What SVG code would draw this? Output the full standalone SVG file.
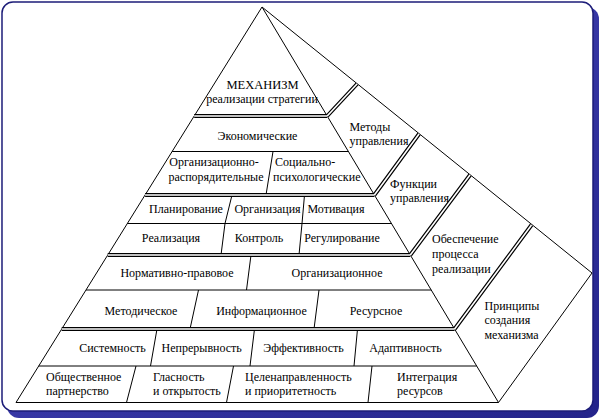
<svg xmlns="http://www.w3.org/2000/svg" width="600" height="419" viewBox="0 0 600 419">
<defs>
<linearGradient id="sh" x1="0" y1="0" x2="1" y2="1">
<stop offset="0" stop-color="#4a4ac0"/>
<stop offset="1" stop-color="#23238a"/>
</linearGradient>
</defs>
<style>
text{font-family:"Liberation Serif","DejaVu Serif",serif;font-size:12px;fill:#000}
.m{text-anchor:middle}
.ln{stroke:#000;stroke-width:1;fill:none}
.dblo{stroke:#000;stroke-width:4;fill:none;stroke-linecap:butt}
.dbli{stroke:#fff;stroke-width:1.6;fill:none;stroke-linecap:butt}
</style>
<rect x="7" y="7" width="592" height="411" rx="12" fill="url(#sh)"/>
<rect x="2" y="2" width="591" height="409" rx="11" fill="#fff" stroke="#1c1c78" stroke-width="1.5"/>

<g id="connectors">
<path class="ln" d="M262,7 L16,402.5 L498.5,402.5 Z"/>
<path class="ln" d="M262,7 L592,273 L498.5,402.5"/>
<path class="ln" d="M172.1,151.5 H348.4 M127.3,223.5 H391.5 M86,290 H431.2 M38.7,366 H476.7"/>
<path class="ln" d="M273,151.5 L266,195 M232,195 L225,223.5 L221,255 M304.5,195 L302,223.5 L299,255 M251,255 L246.5,290 M198.5,290 L190,329 M319,290 L314,329 M157,329 L150.5,366 M254.5,329 L250,366 M357.5,329 L354,366 M136,366 L126.5,402.5 M233.5,366 L226.5,402.5 M372,366 L368,402.5"/>
<path class="dblo" d="M194.2,116 H327.2 M145.1,195 H374.4 M107.7,255 H410.3 M61.7,329 H454.6 M327.2,116 L357,84 M374.4,195 L419,134 M410.3,255 L470,175 M454.6,329 L531.5,225"/>
<path class="dbli" d="M194.2,116 H327.2 M145.1,195 H374.4 M107.7,255 H410.3 M61.7,329 H454.6 M327.2,116 L357,84 M374.4,195 L419,134 M410.3,255 L470,175 M454.6,329 L531.5,225"/>
</g>

<g font-family="Liberation Serif, DejaVu Serif, serif" font-size="12">
<g id="mechanism">
<text class="m" x="262.5" y="89" style="font-size:12.5px">МЕХАНИЗМ</text>
<text class="m" x="262" y="103">реализации стратегии</text>
</g>
<g id="economic"><text class="m" x="257.5" y="140">Экономические</text></g>
<g id="org-admin"><text class="m" x="214" y="166">Организационно-</text><text class="m" x="216" y="181">распорядительные</text></g>
<g id="socio-psych"><text x="275" y="166">Социально-</text><text x="273" y="181">психологические</text></g>
<g id="planning"><text class="m" x="186" y="213">Планирование</text></g>
<g id="organization"><text class="m" x="267.5" y="213">Организация</text></g>
<g id="motivation"><text class="m" x="336" y="213">Мотивация</text></g>
<g id="realization"><text class="m" x="171" y="242">Реализация</text></g>
<g id="control"><text class="m" x="259" y="242">Контроль</text></g>
<g id="regulation"><text class="m" x="342" y="242">Регулирование</text></g>
<g id="normative"><text class="m" x="177" y="277">Нормативно-правовое</text></g>
<g id="organizational"><text class="m" x="337" y="277">Организационное</text></g>
<g id="methodical"><text class="m" x="141" y="315">Методическое</text></g>
<g id="informational"><text class="m" x="261.5" y="315">Информационное</text></g>
<g id="resource"><text class="m" x="376" y="315">Ресурсное</text></g>
<g id="systemic"><text class="m" x="112.5" y="352">Системность</text></g>
<g id="continuity"><text class="m" x="201.7" y="352">Непрерывность</text></g>
<g id="efficiency"><text class="m" x="303.5" y="352">Эффективность</text></g>
<g id="adaptivity"><text class="m" x="405.5" y="352">Адаптивность</text></g>
<g id="partnership"><text x="46" y="381">Общественное</text><text x="46" y="395">партнерство</text></g>
<g id="openness"><text x="153" y="381">Гласность</text><text x="153" y="395">и открытость</text></g>
<g id="purpose"><text x="245" y="381">Целенаправленность</text><text x="245" y="395">и приоритетность</text></g>
<g id="integration"><text x="397" y="381">Интеграция</text><text x="397" y="395">ресурсов</text></g>

<g id="methods"><text x="349.5" y="131">Методы</text><text x="349.5" y="145">управления</text></g>
<g id="functions"><text x="390" y="188">Функции</text><text x="390" y="202">управления</text></g>
<g id="support"><text x="432" y="243">Обеспечение</text><text x="432" y="258">процесса</text><text x="432" y="273">реализации</text></g>
<g id="principles"><text x="484.5" y="310">Принципы</text><text x="484.5" y="324">создания</text><text x="484.5" y="339">механизма</text></g>
</g>
</svg>
